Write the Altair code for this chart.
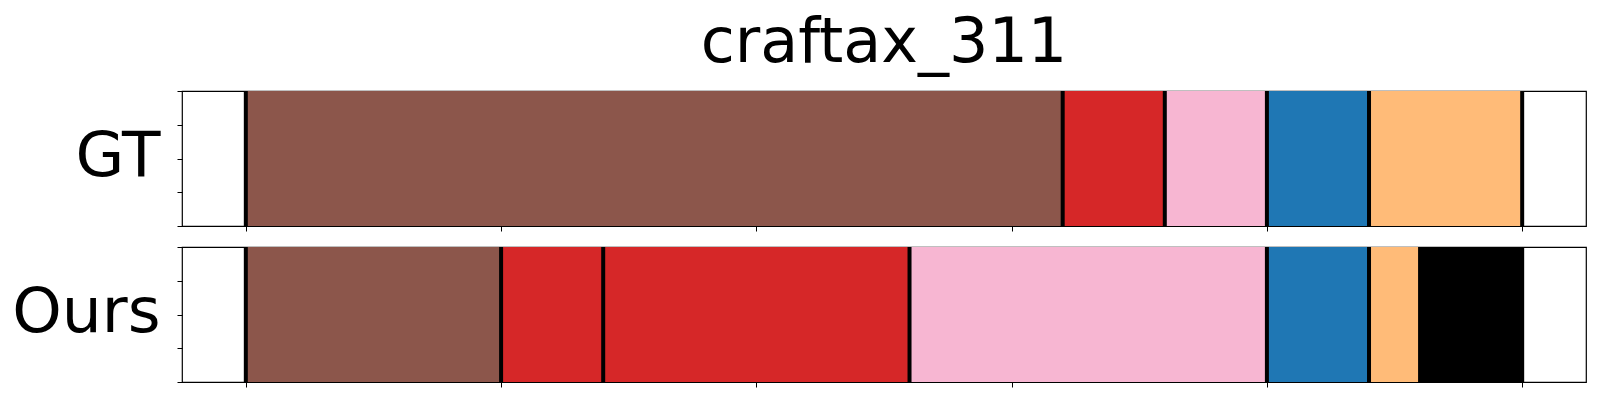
import altair as alt
import pandas as pd

FONT = "DejaVu Sans"

# ---- data ----
gt_starts = [0, 160, 180, 200, 220]
gt_ends = [160, 180, 200, 220, 250]
gt_colors = ["#8c564b", "#d62728", "#f7b6d2", "#1f77b4", "#ffbb78"]
gt_bounds = [0, 160, 180, 200, 220, 250]

ours_starts = [0, 50, 70, 130, 200, 220, 230]
ours_ends = [50, 70, 130, 200, 220, 230, 250]
ours_colors = ["#8c564b", "#d62728", "#d62728", "#f7b6d2", "#1f77b4", "#ffbb78", "#000000"]
ours_bounds = [0, 50, 70, 130, 200, 220, 230, 250]

x_ticks = [0, 50, 100, 150, 200, 250]
y_ticks = [0, 0.25, 0.5, 0.75, 1]
x_domain = [-12.5, 262.5]

PW, PH = 1404, 135


def panel(label, starts, ends, colors, bounds, title=None):
    seg = pd.DataFrame({"start": starts, "end": ends, "color": colors,
                        "y0": [0] * len(starts), "y1": [1] * len(starts)})
    bnd = pd.DataFrame({"x": bounds})
    xenc = alt.X("start:Q", scale=alt.Scale(domain=x_domain, nice=False, zero=False),
                 axis=alt.Axis(values=x_ticks, labels=False, ticks=True, tickSize=5,
                               domain=False, grid=False, title=None))
    yenc = alt.Y("y0:Q", scale=alt.Scale(domain=[0, 1], nice=False),
                 axis=alt.Axis(values=y_ticks, labels=False, ticks=True, tickSize=5,
                               domain=False, grid=False, title=label, titleAngle=0,
                               titleFontSize=63, titleFont=FONT, titleFontWeight="normal",
                               titleColor="black", titleAlign="right",
                               titleBaseline="alphabetic", titleX=-22, titleY=84))
    bars = alt.Chart(seg).mark_bar().encode(
        x=xenc, x2="end:Q", y=yenc, y2="y1:Q",
        color=alt.Color("color:N", scale=None),
    )
    rules = alt.Chart(bnd).mark_rule(color="black", strokeWidth=4).encode(
        x=alt.X("x:Q")
    )
    ch = alt.layer(bars, rules).properties(width=PW, height=PH)
    if title:
        ch = ch.properties(title=alt.TitleParams(
            title, fontSize=62, font=FONT, fontWeight="normal", color="black",
            anchor="middle", frame="group", baseline="alphabetic", offset=-35))
    return ch


top = panel("GT", gt_starts, gt_ends, gt_colors, gt_bounds, title="craftax_311")
bottom = panel("Ours", ours_starts, ours_ends, ours_colors, ours_bounds)

chart = alt.vconcat(top, bottom, spacing=11).properties(
    padding={"left": 3, "top": 3, "right": 0, "bottom": 0}
).configure_view(stroke="black", strokeWidth=1.2).configure_axis(
    tickColor="black", tickWidth=1
)

chart.save("out.html", embed_options={"renderer": "svg", "actions": False})
